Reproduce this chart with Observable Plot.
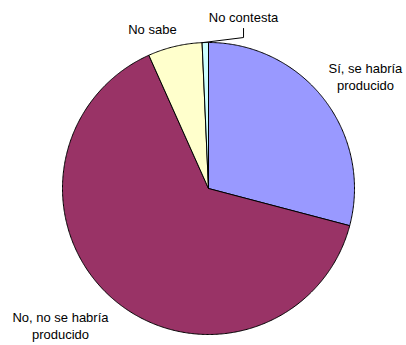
<!DOCTYPE html>
<html>
<head>
<meta charset="utf-8">
<script src="https://cdn.jsdelivr.net/npm/d3@7"></script>
<script src="https://cdn.jsdelivr.net/npm/@observablehq/plot@0.6"></script>
<style>
  html, body { margin: 0; padding: 0; background: #fff; }
  #chart { width: 406px; height: 345px; }
</style>
</head>
<body>
<div id="chart"></div>
<script>
// Data
const categories = ["Sí, se habría\nproducido", "No, no se habría\nproducido", "No sabe", "No contesta"];
const values = [29.1, 64.2, 6.0, 0.7];
const colors = ["#9999FF", "#993366", "#FFFFCC", "#CCFFFF"];

// Layout (label anchors in unit-circle coordinates)
const labelAnchors = [[1.075, 0.77], [-1.014, -0.935], [-0.384, 1.096], [0.24, 1.175]];

const total = d3.sum(values);
const slices = [];
let start = 0;
values.forEach((v, i) => {
  const end = start + v / total * 2 * Math.PI;
  slices.push({cat: categories[i], start, end});
  start = end;
});

const pts = [];
for (const s of slices) {
  pts.push({cat: s.cat, x: 0, y: 0});
  const n = Math.max(2, Math.ceil((s.end - s.start) / (Math.PI / 360)));
  for (let k = 0; k <= n; k++) {
    const a = s.start + (s.end - s.start) * k / n;
    pts.push({cat: s.cat, x: Math.sin(a), y: Math.cos(a)});
  }
  pts.push({cat: s.cat, x: 0, y: 0});
}

const labels = categories.map((c, i) => ({cat: c, x: labelAnchors[i][0], y: labelAnchors[i][1]}));

// leader for "No contesta"
const nc = slices[3];
const mid = (nc.start + nc.end) / 2 - 0.02;
const leader = [
  {x: Math.sin(mid), y: Math.cos(mid)},
  {x: labelAnchors[3][0], y: 1.034},
  {x: labelAnchors[3][0], y: 1.096}
];

const chart = Plot.plot({
  width: 406,
  height: 345,
  margin: 0,
  x: {domain: [-1, 1], range: [62, 354], axis: null},
  y: {domain: [-1, 1], range: [334, 42], axis: null},
  color: {domain: categories, range: colors},
  style: {fontFamily: "'Liberation Sans', Arial, sans-serif", background: "#fff"},
  marks: [
    Plot.line(pts, {x: "x", y: "y", z: "cat", fill: "cat", stroke: "black", strokeWidth: 1, curve: "linear"}),
    Plot.line(leader, {x: "x", y: "y", stroke: "black", strokeWidth: 1}),
    Plot.text(labels, {x: "x", y: "y", text: "cat", fontSize: 13, fill: "black", textAnchor: "middle", lineAnchor: "middle", lineHeight: 1.3})
  ]
});
document.getElementById("chart").appendChild(chart);
</script>
</body>
</html>
